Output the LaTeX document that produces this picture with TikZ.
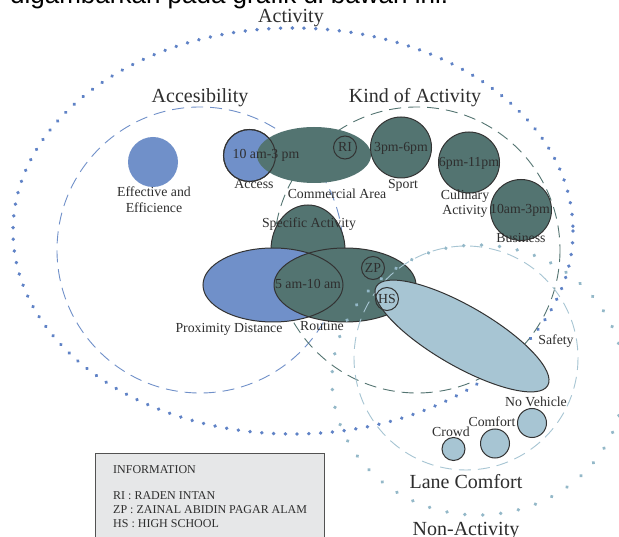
\documentclass[tikz,border=0pt]{standalone}
\usepackage{fontspec}
\setmainfont{Liberation Serif}
\newfontfamily\topfont{Liberation Sans}
\usetikzlibrary{decorations.markings}
\definecolor{cblue}{HTML}{7090C9}
\definecolor{cdotblue}{HTML}{5F82C6}
\definecolor{cteal}{HTML}{537471}
\definecolor{clight}{HTML}{A7C5D3}
\definecolor{cdots}{HTML}{93B8C8}
\definecolor{cline}{HTML}{333333}
\definecolor{ctext}{HTML}{2E2E2E}
\definecolor{cbox}{HTML}{E6E7E8}
\begin{document}
\begin{tikzpicture}[x=1pt,y=-1pt,
  lbl/.style={text=ctext, font=\fontsize{13.8}{15}\selectfont, inner sep=0pt, anchor=base},
  ttl/.style={text=ctext, font=\fontsize{20}{22}\selectfont, inner sep=0pt, anchor=base},
  infotext/.style={text=ctext, font=\fontsize{12}{13}\selectfont, inner sep=0pt, anchor=base west},
  outl/.style={draw=cline, line width=1pt},
  actdots/.style={decoration={markings, mark=between positions 0 and 0.999 step 11.8pt with {\fill[cdotblue] (0pt,0pt) circle [radius=1.9pt];}}, decorate},
  nondots/.style={decoration={markings, mark=between positions 0 and 0.999 step 18pt with {\fill[cdots] (0pt,0pt) circle [radius=1.9pt];}}, decorate},
  accdash/.style={draw=cblue, line width=0.9pt, dash pattern=on 12pt off 7pt},
  kinddash/.style={draw=cteal, line width=0.9pt, dash pattern=on 12pt off 7pt},
  lanedash/.style={draw=clight, line width=0.9pt, dash pattern=on 12pt off 7pt}
]
\useasboundingbox (0,0) rectangle (619,537);
\clip (0,0) rectangle (619,537);
\fill[white] (0,0) rectangle (619,537);

% cut-off heading
\node[anchor=base west, inner sep=0pt, text=black, font=\topfont\fontsize{26}{28}\selectfont] (heading) at (10,3.5) {digambarkan pada grafik di bawah ini.};

% background circles
\path[actdots] (293,231) ellipse [x radius=280, y radius=203];
\draw[accdash] (200,250) circle [radius=143];
\draw[kinddash] (417,250) circle [radius=143];

% accessibility
\fill[cblue] (153,162) circle [radius=25];
\filldraw[fill=cblue, outl] (249.5,155.5) circle [radius=26];
\fill[cteal] (314,155) ellipse [x radius=57, y radius=28];
\draw[outl] (249.5,155.5) circle [radius=26];
\draw[outl] (345,147.5) circle [radius=11.5];

% kind of activity
\filldraw[fill=cteal, outl] (401,147.5) circle [radius=30.5];
\filldraw[fill=cteal, outl] (469,162.5) circle [radius=30.5];
\filldraw[fill=cteal, outl] (521,210) circle [radius=30.5];

% specific / proximity / routine
\filldraw[fill=cteal, outl] (308,250) ellipse [x radius=37, y radius=45];
\fill[cblue] (273,285) ellipse [x radius=70, y radius=37];
\fill[cteal] (345,285) ellipse [x radius=71, y radius=37];
\draw[outl] (273,285) ellipse [x radius=70, y radius=37];
\draw[outl] (345,285) ellipse [x radius=71, y radius=37];
\draw[outl] (373,268) circle [radius=11.5];

% non-activity and lane comfort
\path[nondots] (478,380) ellipse [x radius=146, y radius=135];
\draw[lanedash] (466,358) circle [radius=112];

% safety
\filldraw[fill=clight, outl, shift={(462,336)}, rotate=-30] (0,0) ellipse [x radius=99, y radius=30];
\draw[outl] (387,299) circle [radius=11.5];

% lane comfort circles
\filldraw[fill=clight, outl] (532,423) circle [radius=14.5];
\filldraw[fill=clight, outl] (495,443.5) circle [radius=14.5];
\filldraw[fill=clight, outl] (453.5,449) circle [radius=11.5];

% titles
\node[ttl] (tact) at (291,23) {Activity};
\node[ttl] (tacc) at (200,103) {Accesibility};
\node[ttl] (tkind) at (415,103) {Kind of Activity};
\node[ttl] (tlane) at (466,488) {Lane Comfort};
\node[ttl] (tnon) at (466,535) {Non-Activity};

% labels
\node[lbl] (eff1) at (154,197) {Effective and};
\node[lbl] (eff2) at (154,213) {Efficience};
\node[lbl] (acct) at (266,158.5) {10 am-3 pm};
\node[lbl] (accl) at (254,189) {Access};
\node[lbl] (ri) at (345,152) {RI};
\node[lbl] (coml) at (337,199) {Commercial Area};
\node[lbl] (spt) at (401,152) {3pm-6pm};
\node[lbl] (spl) at (403,189) {Sport};
\node[lbl] (cut) at (469,167) {6pm-11pm};
\node[lbl] (cul1) at (465,200) {Culinary};
\node[lbl] (cul2) at (465,215) {Activity};
\node[lbl] (bust) at (520,214) {10am-3pm};
\node[lbl] (busl) at (521,243) {Business};
\node[lbl] (spec) at (309,228) {Specific Activity};
\node[lbl] (rout) at (308,288.5) {5 am-10 am};
\node[lbl] (zp) at (373,272.5) {ZP};
\node[lbl] (hs) at (387,303.5) {HS};
\node[lbl] (prox) at (229,333) {Proximity Distance};
\node[lbl] (routl) at (322,331) {Routine};
\node[lbl] (safe) at (556,345) {Safety};
\node[lbl] (nov) at (536,407) {No Vehicle};
\node[lbl] (comf) at (492,427) {Comfort};
\node[lbl] (crow) at (451,436) {Crowd};

% information box
\filldraw[fill=cbox, draw=cline!85, line width=1pt] (95,454) rectangle (324,548);
\node[infotext] (inf0) at (113,473) {INFORMATION};
\node[infotext] (inf1) at (113,499) {RI : RADEN INTAN};
\node[infotext] (inf2) at (113,513) {ZP : ZAINAL ABIDIN PAGAR ALAM};
\node[infotext] (inf3) at (113,527) {HS : HIGH SCHOOL};
\end{tikzpicture}
\end{document}
